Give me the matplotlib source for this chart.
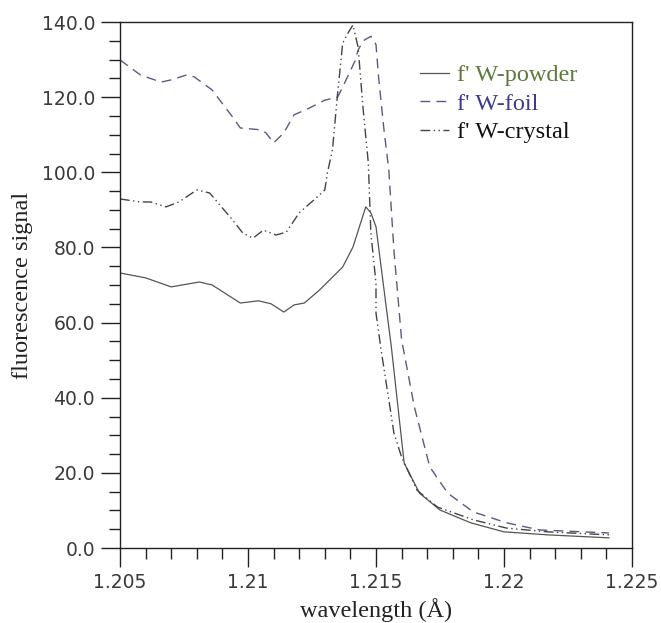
import numpy as np
import matplotlib
matplotlib.use('Agg')
import matplotlib.pyplot as plt
from matplotlib.ticker import MultipleLocator

# curves
powder_x = [1.2050, 1.2060, 1.2070, 1.2081, 1.2086, 1.2097, 1.2104, 1.2109, 1.2114,
            1.2118, 1.2122, 1.2128, 1.2137, 1.2141, 1.2146, 1.2148, 1.2150, 1.2152,
            1.2154, 1.2156, 1.2161, 1.2167, 1.2175, 1.2187, 1.2200, 1.2217, 1.2241]
powder_y = [73.2, 71.9, 69.5, 70.8, 70.0, 65.2, 65.8, 65.0, 62.8,
            64.7, 65.2, 68.7, 74.8, 80.1, 90.8, 89.2, 85.5, 74.8,
            64.1, 53.5, 22.6, 14.6, 10.1, 6.7, 4.3, 3.5, 2.7]

foil_x = [1.2050, 1.2058, 1.2066, 1.2070, 1.2076, 1.2079, 1.2086, 1.2094, 1.2097,
          1.2105, 1.2107, 1.2110, 1.2114, 1.2118, 1.2124, 1.2130, 1.2135, 1.2137,
          1.2142, 1.2143, 1.2145, 1.2148, 1.2150, 1.2151, 1.2153, 1.2155, 1.2157,
          1.2160, 1.2165, 1.2171, 1.2178, 1.2188, 1.2201, 1.2214, 1.2241]
foil_y = [129.9, 125.9, 124.0, 124.6, 125.9, 125.4, 121.9, 114.7, 111.8,
          111.3, 110.5, 107.8, 110.5, 115.3, 117.1, 119.2, 120.0, 122.7,
          129.9, 132.5, 135.0, 136.2, 134.0, 125.4, 112.0, 100.6, 79.3,
          55.4, 37.5, 21.6, 14.6, 9.6, 6.7, 4.8, 4.0]

crystal_x = [1.2050, 1.2058, 1.2062, 1.2068, 1.2073, 1.2080, 1.2085, 1.2094, 1.2098,
             1.2102, 1.2106, 1.2111, 1.2115, 1.2120, 1.2127, 1.2130, 1.2131, 1.2133,
             1.2135, 1.2137, 1.2139, 1.2141, 1.2143, 1.2145, 1.2147, 1.2148, 1.2150,
             1.2150, 1.2152, 1.2157, 1.2160, 1.2166, 1.2174, 1.2188, 1.2201, 1.2217, 1.2241]
crystal_y = [92.9, 92.1, 92.1, 90.8, 92.1, 95.3, 94.5, 87.3, 83.8,
             82.5, 84.6, 83.3, 84.1, 89.2, 93.4, 95.3, 99.8, 106.0,
             121.0, 134.4, 137.0, 139.2, 133.3, 116.6, 102.5, 83.8, 70.5,
             62.5, 52.7, 30.6, 24.2, 15.4, 10.9, 7.5, 5.3, 4.3, 3.5]

labels = ["f' W-powder", "f' W-foil", "f' W-crystal"]
label_colors = ['#5d7a3e', '#3c3c8c', '#111111']
xtick_vals = [1.205, 1.21, 1.215, 1.22, 1.225]
xtick_labels = ['1.205', '1.21', '1.215', '1.22', '1.225']

fig = plt.figure(figsize=(6.61, 6.23), dpi=100)
ax = fig.add_axes([120 / 661, 1 - 548 / 623, 512 / 661, 526 / 623])

ax.plot(powder_x, powder_y, color='#555555', lw=0.9, label=labels[0])
ax.plot(foil_x, foil_y, color='#5a5a85', lw=1.0, linestyle=(0, (7, 4.5)), label=labels[1])
ax.plot(crystal_x, crystal_y, color='#444444', lw=1.0,
        linestyle=(0, (7, 2.5, 1, 2.5, 1, 2.5)), label=labels[2])

ax.set_xlim(1.205, 1.225)
ax.set_ylim(0, 140)
ax.set_xticks(xtick_vals)
ax.set_xticklabels(xtick_labels)
ax.xaxis.set_minor_locator(MultipleLocator(0.001))
ax.yaxis.set_major_locator(MultipleLocator(20))
ax.yaxis.set_minor_locator(MultipleLocator(5))
ax.yaxis.set_major_formatter(matplotlib.ticker.FormatStrFormatter('%.1f'))

ax.tick_params(which='major', direction='out', length=14, width=1.0, color='#222222',
               labelsize=13.5, labelcolor='#3a3a3a', pad=4)
ax.tick_params(which='minor', direction='out', length=8, width=1.0, color='#222222')
for s in ax.spines.values():
    s.set_linewidth(1.0)
    s.set_color('#222222')

ax.set_xlabel('wavelength (Å)', family='Liberation Serif', fontsize=17.5, color='#222222', labelpad=4)
ax.set_ylabel('fluorescence signal', family='Liberation Serif', fontsize=17.5, color='#222222', labelpad=6)

leg = ax.legend(loc='upper left', bbox_to_anchor=(0.585, 0.92), frameon=False,
                prop={'family': 'Liberation Serif', 'size': 17.5},
                handlelength=1.2, handletextpad=0.35, labelspacing=0.27,
                borderpad=0, borderaxespad=0)
for t, c in zip(leg.get_texts(), label_colors):
    t.set_color(c)

fig.savefig('out.png', dpi=100)
